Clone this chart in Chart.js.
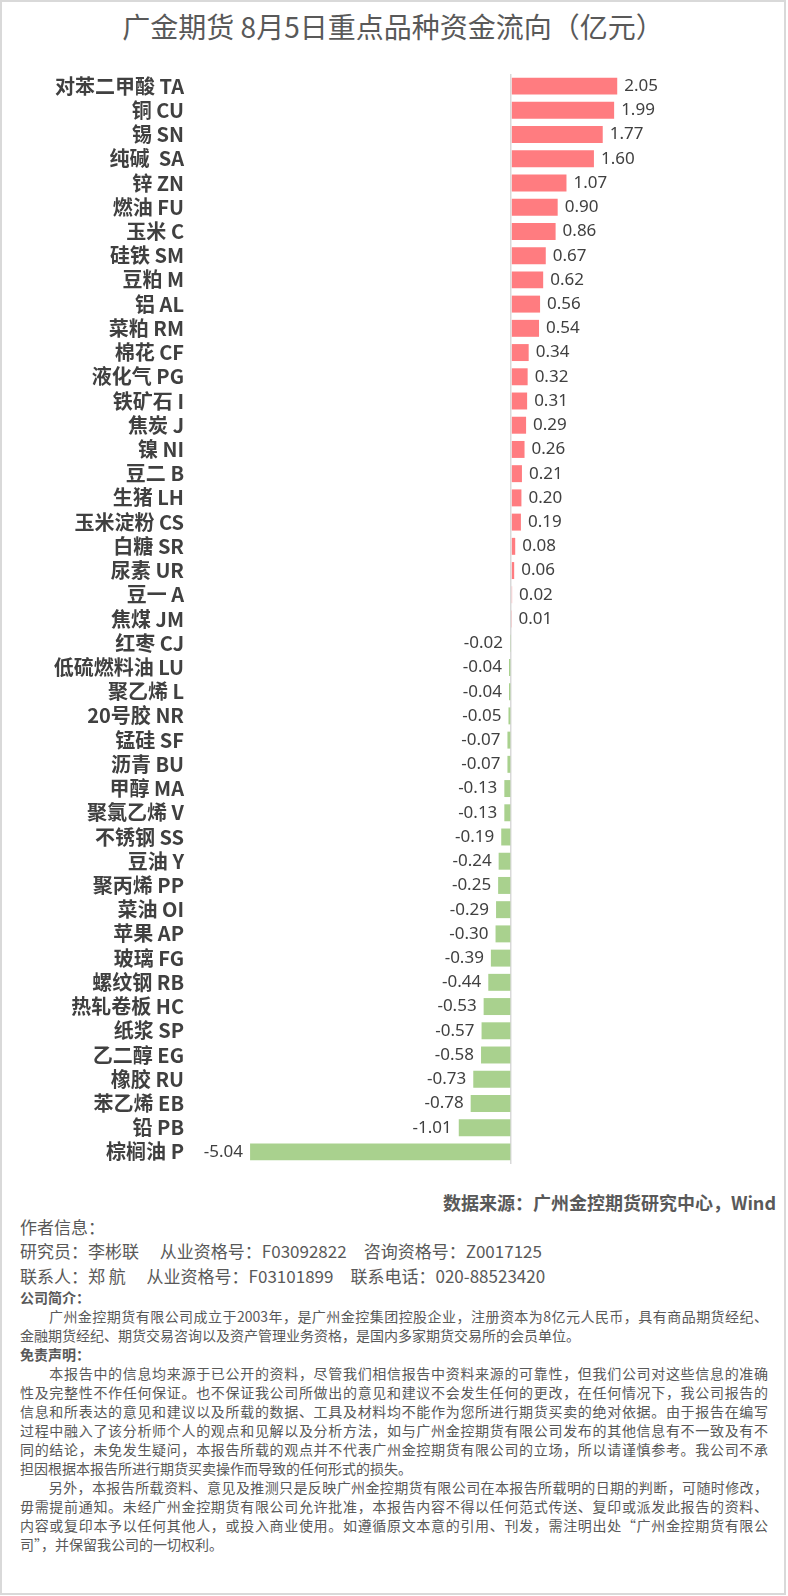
<!DOCTYPE html>
<html>
<head>
<meta charset="utf-8">
<script src="https://cdn.jsdelivr.net/npm/chart.js@4.4.1/dist/chart.umd.min.js"></script>
<style>
  html,body{margin:0;padding:0;background:#fff;}
  body{width:788px;height:1596px;position:relative;overflow:hidden;font-family:"Noto Sans CJK SC","Noto Sans",sans-serif;color:#595959;}
  .frame{position:absolute;left:0;top:0;width:782px;height:1591px;border:2px solid #d9d9d9;}
  .title{position:absolute;left:0;top:8px;width:786px;text-align:center;font-size:28px;line-height:36px;color:#595959;}
  .chartBox{position:absolute;left:0;top:70px;width:785px;height:1100px;}
  .t{position:absolute;white-space:pre;}
  .src{right:12px;top:1189px;font-size:18px;font-weight:bold;}
  .au{left:20px;font-size:17px;}
  .para{position:absolute;left:20px;width:748px;font-size:14px;line-height:19px;}
  .para div{text-align:justify;text-align-last:justify;white-space:nowrap;}
  .para div.last{text-align-last:left;}
  .para div.h{font-weight:bold;text-align-last:left;}
</style>
</head>
<body>
<div class="frame"></div>
<div class="title">广金期货 8月5日重点品种资金流向（亿元）</div>
<div class="chartBox"><canvas id="flowChart"></canvas></div>

<div class="t src">数据来源：广州金控期货研究中心，Wind</div>
<div class="t au" style="top:1214px;">作者信息：</div>
<div class="t au" style="top:1238px;">研究员：李彬联　 从业资格号：F03092822　咨询资格号：Z0017125</div>
<div class="t au" style="top:1263px;">联系人：郑 航　 从业资格号：F03101899　联系电话：020-88523420</div>

<div class="para" style="top:1288px;">
  <div class="h">公司简介：</div>
  <div>　　广州金控期货有限公司成立于2003年，是广州金控集团控股企业，注册资本为8亿元人民币，具有商品期货经纪、</div>
  <div class="last">金融期货经纪、期货交易咨询以及资产管理业务资格，是国内多家期货交易所的会员单位。</div>
  <div class="h">免责声明：</div>
  <div>　　本报告中的信息均来源于已公开的资料，尽管我们相信报告中资料来源的可靠性，但我们公司对这些信息的准确</div>
  <div>性及完整性不作任何保证。也不保证我公司所做出的意见和建议不会发生任何的更改，在任何情况下，我公司报告的</div>
  <div>信息和所表达的意见和建议以及所载的数据、工具及材料均不能作为您所进行期货买卖的绝对依据。由于报告在编写</div>
  <div>过程中融入了该分析师个人的观点和见解以及分析方法，如与广州金控期货有限公司发布的其他信息有不一致及有不</div>
  <div>同的结论，未免发生疑问，本报告所载的观点并不代表广州金控期货有限公司的立场，所以请谨慎参考。我公司不承</div>
  <div class="last">担因根据本报告所进行期货买卖操作而导致的任何形式的损失。</div>
  <div>　　另外，本报告所载资料、意见及推测只是反映广州金控期货有限公司在本报告所载明的日期的判断，可随时修改，</div>
  <div>毋需提前通知。未经广州金控期货有限公司允许批准，本报告内容不得以任何范式传送、复印或派发此报告的资料、</div>
  <div>内容或复印本予以任何其他人，或投入商业使用。如遵循原文本意的引用、刊发，需注明出处“广州金控期货有限公</div>
  <div class="last">司”，并保留我公司的一切权利。</div>
</div>

<script>
// 品种名称
const categories = [
  '对苯二甲酸 TA','铜 CU','锡 SN','纯碱  SA','锌 ZN','燃油 FU','玉米 C','硅铁 SM','豆粕 M','铝 AL',
  '菜粕 RM','棉花 CF','液化气 PG','铁矿石 I','焦炭 J','镍 NI','豆二 B','生猪 LH','玉米淀粉 CS','白糖 SR',
  '尿素 UR','豆一 A','焦煤 JM','红枣 CJ','低硫燃料油 LU','聚乙烯 L','20号胶 NR','锰硅 SF','沥青 BU','甲醇 MA',
  '聚氯乙烯 V','不锈钢 SS','豆油 Y','聚丙烯 PP','菜油 OI','苹果 AP','玻璃 FG','螺纹钢 RB','热轧卷板 HC','纸浆 SP',
  '乙二醇 EG','橡胶 RU','苯乙烯 EB','铅 PB','棕榈油 P'
];

// 资金流向（亿元）
const flows = [
  2.05, 1.99, 1.77, 1.60, 1.07, 0.90, 0.86, 0.67, 0.62, 0.56,
  0.54, 0.34, 0.32, 0.31, 0.29, 0.26, 0.21, 0.20, 0.19, 0.08,
  0.06, 0.02, 0.01, -0.02, -0.04, -0.04, -0.05, -0.07, -0.07, -0.13,
  -0.13, -0.19, -0.24, -0.25, -0.29, -0.30, -0.39, -0.44, -0.53, -0.57,
  -0.58, -0.73, -0.78, -1.01, -5.04
];

const POS = '#ff7c80', NEG = '#a9d18e';

// 数值标签
const valueLabels = {
  id:'valueLabels',
  afterDatasetsDraw(chart){
    const ctx = chart.ctx;
    const meta = chart.getDatasetMeta(0);
    ctx.save();
    ctx.font = '17px "Noto Sans", sans-serif';
    ctx.fillStyle = '#404040';
    ctx.textBaseline = 'middle';
    meta.data.forEach((bar,i)=>{
      const v = flows[i];
      if(v >= 0){ ctx.textAlign = 'left'; ctx.fillText(v.toFixed(2), bar.x + 7, bar.y); }
      else { ctx.textAlign = 'right'; ctx.fillText(v.toFixed(2), bar.x - 7, bar.y); }
    });
    ctx.restore();
  }
};

new Chart(document.getElementById('flowChart'), {
  type:'bar',
  data:{
    labels:categories,
    datasets:[{
      data:flows,
      backgroundColor:flows.map(v=>v>=0?POS:NEG),
      borderWidth:0,
      categoryPercentage:1,
      barPercentage:0.7
    }]
  },
  options:{
    indexAxis:'y',
    responsive:true,
    maintainAspectRatio:false,
    animation:false,
    layout:{padding:{top:4,bottom:6,right:15,left:0}},
    plugins:{legend:{display:false},tooltip:{enabled:false}},
    scales:{
      x:{
        min:-6.2, max:5,
        ticks:{display:false, stepSize:1},
        border:{display:false},
        grid:{drawTicks:false, lineWidth:1.5, color:c=>c.tick && c.tick.value===0 ? '#d9d9d9' : 'rgba(0,0,0,0)'}
      },
      y:{
        afterFit(scale){ scale.width = 190; scale.paddingTop = 0; scale.paddingBottom = 0; },
        border:{display:false},
        grid:{display:false, drawTicks:false},
        ticks:{autoSkip:false, padding:6, color:'#404040', font:{family:'"Noto Sans CJK SC", sans-serif', size:20, weight:'bold', lineHeight:1}}
      }
    }
  },
  plugins:[valueLabels]
});
</script>
</body>
</html>
